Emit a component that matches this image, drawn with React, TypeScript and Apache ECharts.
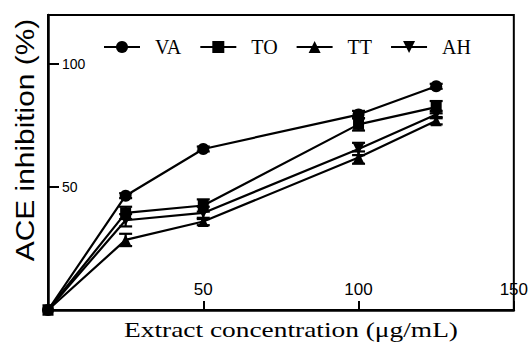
import React, { useEffect, useRef } from "react";
import * as echarts from "echarts";

const concentrations = [0, 25, 50, 100, 125];
const seriesNames = ["VA", "TO", "TT", "AH"];
const vaValues = [0, 46.5, 65.5, 79.5, 91];
const toValues = [0, 39.5, 42.5, 75.5, 82.5];
const ttValues = [0, 28.5, 36, 62, 77];
const ahValues = [0, 36.5, 39.5, 65.5, 79.5];
const vaErrors = [0, 1, 1, 1.5, 1];
const toErrors = [0, 2.5, 2.5, 2.5, 2.5];
const ttErrors = [0, 2.5, 1.5, 2.5, 1.5];
const ahErrors = [0, 2.5, 2.5, 2.5, 1.5];
const xTickLabels = [50, 100, 150];
const yTickLabels = [50, 100];
const xTitle = "Extract concentration (\u03bcg/mL)";
const yTitle = "ACE inhibition (%)";

const SANS = "'Liberation Sans', Arial, sans-serif";
const SERIF = "'Liberation Serif', 'Times New Roman', serif";

export default function App() {
  const ref = useRef<HTMLDivElement>(null);

  useEffect(() => {
    if (!ref.current) return;
    const chart = echarts.init(ref.current, undefined, { renderer: "svg" });

    const valuesList = [vaValues, toValues, ttValues, ahValues];
    const errorsList = [vaErrors, toErrors, ttErrors, ahErrors];
    const symbols = ["circle", "rect", "triangle", "triangle"];
    const rotations = [0, 0, 0, 180];

    const lineSeries = seriesNames.map((name, i) => ({
      name,
      type: "line",
      data: concentrations.map((c, j) => [c, valuesList[i][j]]),
      symbol: symbols[i],
      symbolRotate: rotations[i],
      symbolSize: i === 0 ? 12 : 11,
      showAllSymbol: true,
      lineStyle: { color: "#000", width: 2.2 },
      itemStyle: { color: "#000", borderWidth: 0 },
      z: 3,
    }));

    const errorSeries = seriesNames.map((name, i) => ({
      name: name + " error",
      type: "custom",
      data: concentrations
        .map((c, j) => [c, valuesList[i][j], errorsList[i][j]])
        .filter((d) => d[2] > 0),
      z: 2,
      renderItem: (params: any, api: any) => {
        const x = api.value(0);
        const y = api.value(1);
        const e = api.value(2);
        const top = api.coord([x, y + e]);
        const bot = api.coord([x, y - e]);
        const hw = 6.5;
        const style = { stroke: "#000", lineWidth: 2.2 };
        return {
          type: "group",
          children: [
            { type: "line", shape: { x1: top[0], y1: top[1], x2: bot[0], y2: bot[1] }, style },
            { type: "line", shape: { x1: top[0] - hw, y1: top[1], x2: top[0] + hw, y2: top[1] }, style },
            { type: "line", shape: { x1: bot[0] - hw, y1: bot[1], x2: bot[0] + hw, y2: bot[1] }, style },
          ],
        };
      },
    }));

    chart.setOption({
      animation: false,
      backgroundColor: "#fff",
      grid: {
        left: 48,
        right: 0,
        top: 15,
        bottom: 32,
        show: true,
        borderColor: "#000",
        borderWidth: 2,
        containLabel: false,
      },
      legend: {
        data: seriesNames,
        left: 98,
        top: 32,
        itemWidth: 36,
        itemHeight: 15,
        itemGap: 18,
        textStyle: {
          fontFamily: SERIF,
          fontSize: 20,
          color: "#000",
          padding: [0, 0, 0, 10],
        },
      },
      xAxis: {
        type: "value",
        min: 0,
        max: 150,
        interval: 50,
        axisLine: { show: true, lineStyle: { color: "#000", width: 2.5 } },
        axisTick: { inside: true, length: 9, lineStyle: { color: "#000", width: 2 }, customValues: xTickLabels },
        axisLabel: {
          inside: true,
          margin: 12,
          fontFamily: SANS,
          fontSize: 17,
          color: "#000",
          customValues: xTickLabels,
          formatter: (v: number) => (xTickLabels.includes(v) ? String(v) : ""),
        },
        splitLine: { show: false },
      },
      yAxis: {
        type: "value",
        min: 0,
        max: 120,
        interval: 50,
        axisLine: { show: true, lineStyle: { color: "#000", width: 2.5 } },
        axisTick: { inside: true, length: 11, lineStyle: { color: "#000", width: 2 }, customValues: yTickLabels },
        axisLabel: {
          inside: true,
          margin: 14,
          fontFamily: SANS,
          fontSize: 14,
          color: "#000",
          customValues: yTickLabels,
          formatter: (v: number) => (yTickLabels.includes(v) ? String(v) : ""),
        },
        splitLine: { show: false },
      },
      graphic: [
        {
          type: "text",
          x: 25,
          y: 140,
          rotation: Math.PI / 2,
          scaleX: 1.15,
          style: {
            text: yTitle,
            fontFamily: SANS,
            fontSize: 26,
            fill: "#000",
            align: "center",
            verticalAlign: "middle",
          },
        },
        {
          type: "text",
          x: 291,
          y: 330,
          scaleX: 1.37,
          style: {
            text: xTitle,
            fontFamily: SERIF,
            fontSize: 20,
            fill: "#000",
            align: "center",
            verticalAlign: "middle",
          },
        },
      ],
      series: [...errorSeries, ...lineSeries],
    });

    return () => chart.dispose();
  }, []);

  return (
    <div
      ref={ref}
      style={{ position: "fixed", left: 0, top: 0, width: 531, height: 342 }}
    />
  );
}
